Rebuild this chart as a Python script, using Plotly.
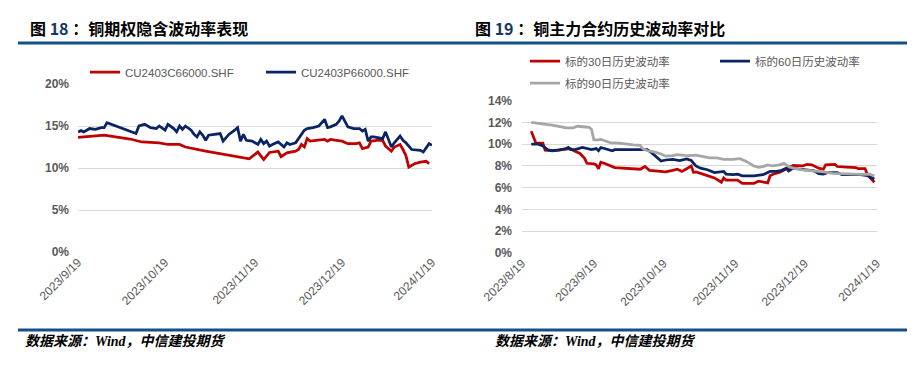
import plotly.graph_objects as go

W, H = 917, 365

# ---------------- Left chart: implied volatility (%) ----------------
call_dates = ["2023-09-19", "2023-09-28", "2023-10-07", "2023-10-11", "2023-10-17", "2023-10-20",
              "2023-10-24", "2023-10-26", "2023-11-02", "2023-11-10", "2023-11-17", "2023-11-20",
              "2023-11-22", "2023-11-24", "2023-11-27", "2023-11-28", "2023-11-30", "2023-12-03",
              "2023-12-04", "2023-12-05", "2023-12-06", "2023-12-07", "2023-12-08", "2023-12-10",
              "2023-12-13", "2023-12-14", "2023-12-15", "2023-12-17", "2023-12-19", "2023-12-21",
              "2023-12-24", "2023-12-25", "2023-12-26", "2023-12-28", "2023-12-29", "2023-12-31",
              "2024-01-02", "2024-01-03", "2024-01-05", "2024-01-06", "2024-01-08", "2024-01-09",
              "2024-01-10", "2024-01-11", "2024-01-13", "2024-01-15", "2024-01-17", "2024-01-18"]
call_iv = [13.65, 13.9, 13.45, 13.1, 13.0, 12.8,
           12.8, 12.5, 12.0, 11.5, 11.1, 11.9,
           11.0, 11.85, 12.0, 11.35, 11.8, 12.0,
           12.2, 12.8, 12.5, 13.5, 13.2, 13.3,
           13.4, 13.2, 13.4, 13.3, 13.2, 12.9,
           12.9, 13.0, 12.3, 12.5, 13.2, 13.3,
           13.3, 12.6, 12.0, 12.5, 12.8, 12.2,
           11.5, 10.1, 10.5, 10.7, 10.8, 10.5]

put_dates = ["2023-09-19", "2023-09-20", "2023-09-21", "2023-09-22", "2023-09-23", "2023-09-25",
             "2023-09-27", "2023-09-28", "2023-09-29", "2023-10-09", "2023-10-10", "2023-10-12",
             "2023-10-14", "2023-10-16", "2023-10-17", "2023-10-19", "2023-10-20", "2023-10-22",
             "2023-10-23", "2023-10-24", "2023-10-25", "2023-10-26", "2023-10-28", "2023-10-29",
             "2023-10-30", "2023-10-31", "2023-11-01", "2023-11-02", "2023-11-03", "2023-11-05",
             "2023-11-07", "2023-11-08", "2023-11-10", "2023-11-12", "2023-11-13", "2023-11-14",
             "2023-11-15", "2023-11-16", "2023-11-18", "2023-11-19", "2023-11-20", "2023-11-21",
             "2023-11-22", "2023-11-23", "2023-11-24", "2023-11-25", "2023-11-27", "2023-11-29",
             "2023-11-30", "2023-12-01", "2023-12-03", "2023-12-04", "2023-12-06", "2023-12-07",
             "2023-12-09", "2023-12-11", "2023-12-13", "2023-12-14", "2023-12-15", "2023-12-17",
             "2023-12-18", "2023-12-19", "2023-12-20", "2023-12-21", "2023-12-23", "2023-12-25",
             "2023-12-26", "2023-12-27", "2023-12-28", "2023-12-29", "2023-12-30", "2024-01-02",
             "2024-01-03", "2024-01-04", "2024-01-05", "2024-01-06", "2024-01-08", "2024-01-09",
             "2024-01-10", "2024-01-12", "2024-01-14", "2024-01-15", "2024-01-16", "2024-01-17",
             "2024-01-18", "2024-01-19"]
put_iv = [14.3, 14.45, 14.3, 14.5, 14.7, 14.6,
          14.8, 14.8, 15.4, 14.1, 15.0, 15.2,
          14.8, 14.7, 15.0, 14.5, 15.2, 14.7,
          14.3, 15.0, 14.6, 15.0, 14.5, 14.0,
          13.7, 14.3, 13.9, 13.3, 13.9, 14.0,
          14.1, 13.2, 14.0, 14.5, 14.8, 13.2,
          14.0, 13.3, 13.2, 13.0, 12.8, 13.4,
          12.9, 13.2, 12.6, 12.8, 13.1, 12.5,
          13.0, 12.8, 13.0, 13.5, 14.5, 14.7,
          14.8, 15.0, 15.8, 14.8, 14.9, 15.2,
          15.6, 16.2, 15.5, 14.9, 14.7, 14.7,
          14.4, 14.6, 13.2, 13.7, 13.7, 13.5,
          14.3, 13.4, 12.5, 13.0, 13.8, 13.3,
          13.0, 12.2, 12.1, 12.1, 11.9, 12.4,
          12.9, 12.7]

# ---------------- Right chart: historical volatility (%) ----------------
hv30_dates = ["2023-08-23", "2023-08-25", "2023-08-28", "2023-08-29", "2023-09-01", "2023-09-04",
              "2023-09-07", "2023-09-09", "2023-09-10", "2023-09-13", "2023-09-15", "2023-09-16",
              "2023-09-19", "2023-09-20", "2023-09-21", "2023-09-22", "2023-09-24", "2023-09-27",
              "2023-09-28", "2023-10-09", "2023-10-11", "2023-10-13", "2023-10-16", "2023-10-18",
              "2023-10-20", "2023-10-23", "2023-10-25", "2023-10-27", "2023-10-29", "2023-10-31",
              "2023-11-01", "2023-11-02", "2023-11-05", "2023-11-07", "2023-11-10", "2023-11-13",
              "2023-11-14", "2023-11-15", "2023-11-20", "2023-11-22", "2023-11-27", "2023-11-29",
              "2023-12-01", "2023-12-03", "2023-12-04", "2023-12-06", "2023-12-08", "2023-12-11",
              "2023-12-14", "2023-12-18", "2023-12-20", "2023-12-22", "2023-12-25", "2023-12-27",
              "2023-12-28", "2024-01-01", "2024-01-02", "2024-01-06", "2024-01-10", "2024-01-11",
              "2024-01-14", "2024-01-15", "2024-01-17", "2024-01-18"]
hv30 = [11.2, 10.1, 10.1, 9.45, 9.4, 9.45,
        9.5, 9.6, 9.45, 9.15, 8.7, 8.25,
        8.2, 8.1, 7.75, 8.35, 8.2, 7.95,
        7.85, 7.7, 7.95, 7.6, 7.55, 7.55,
        7.45, 7.6, 7.7, 7.5, 7.75, 8.0,
        7.4, 7.45, 7.25, 7.1, 6.9, 6.5,
        6.9, 6.7, 6.7, 6.4, 6.4, 6.6,
        6.55, 6.45, 7.1, 7.3, 7.4, 7.7,
        8.05, 8.0, 8.15, 8.1, 7.8, 7.7,
        8.1, 8.15, 7.95, 7.9, 7.85, 7.75,
        7.75, 7.2, 6.7, 6.5]

hv60_dates = ["2023-08-23", "2023-08-26", "2023-08-28", "2023-08-30", "2023-09-01", "2023-09-04",
              "2023-09-07", "2023-09-08", "2023-09-09", "2023-09-11", "2023-09-14", "2023-09-16",
              "2023-09-18", "2023-09-20", "2023-09-21", "2023-09-22", "2023-09-25", "2023-09-27",
              "2023-09-28", "2023-10-12", "2023-10-14", "2023-10-16", "2023-10-18", "2023-10-20",
              "2023-10-23", "2023-10-26", "2023-10-29", "2023-10-31", "2023-11-02", "2023-11-04",
              "2023-11-07", "2023-11-10", "2023-11-14", "2023-11-15", "2023-11-18", "2023-11-20",
              "2023-11-22", "2023-11-27", "2023-12-01", "2023-12-04", "2023-12-07", "2023-12-09",
              "2023-12-11", "2023-12-12", "2023-12-14", "2023-12-17", "2023-12-20", "2023-12-23",
              "2023-12-25", "2023-12-27", "2023-12-29", "2024-01-02", "2024-01-04", "2024-01-12",
              "2024-01-15", "2024-01-17", "2024-01-18"]
hv60 = [10.0, 10.0, 9.85, 9.5, 9.4, 9.45,
        9.6, 9.7, 9.5, 9.5, 9.7, 9.6,
        9.5, 9.6, 9.4, 9.7, 9.5, 9.4,
        9.5, 9.5, 9.2, 8.85, 8.45, 8.55,
        8.6, 8.5, 8.65, 8.5, 8.0, 7.8,
        7.65, 7.4, 7.5, 7.25, 7.2, 7.25,
        7.1, 7.1, 7.2, 7.5, 7.5, 7.6,
        7.8, 7.55, 7.8, 7.7, 7.65, 7.55,
        7.3, 7.25, 7.4, 7.4, 7.2, 7.2,
        7.1, 6.85, 6.8]

hv90_dates = ["2023-08-23", "2023-08-27", "2023-08-30", "2023-09-01", "2023-09-03", "2023-09-05",
              "2023-09-07", "2023-09-10", "2023-09-12", "2023-09-14", "2023-09-17", "2023-09-18",
              "2023-09-19", "2023-09-21", "2023-09-22", "2023-09-24", "2023-09-26", "2023-09-30",
              "2023-10-03", "2023-10-06", "2023-10-09", "2023-10-10", "2023-10-12", "2023-10-15",
              "2023-10-18", "2023-10-20", "2023-10-23", "2023-10-25", "2023-10-28", "2023-10-30",
              "2023-11-02", "2023-11-05", "2023-11-08", "2023-11-11", "2023-11-14", "2023-11-18",
              "2023-11-21", "2023-11-24", "2023-11-27", "2023-11-29", "2023-12-01", "2023-12-03",
              "2023-12-05", "2023-12-08", "2023-12-10", "2023-12-12", "2023-12-14", "2023-12-18",
              "2023-12-23", "2023-12-27", "2023-12-31", "2024-01-05", "2024-01-12", "2024-01-16",
              "2024-01-18"]
hv90 = [12.0, 11.85, 11.8, 11.75, 11.7, 11.6,
        11.5, 11.5, 11.65, 11.6, 11.55, 11.35,
        10.4, 10.4, 10.45, 10.3, 10.15, 10.1,
        10.0, 9.95, 9.9, 9.6, 9.4, 9.3,
        9.1, 8.9, 8.95, 9.05, 8.98, 8.95,
        9.0, 8.85, 8.75, 8.75, 8.6, 8.6,
        8.67, 8.4, 8.0, 7.87, 7.94, 8.1,
        8.0, 8.1, 8.24, 7.94, 7.8, 7.65,
        7.57, 7.45, 7.32, 7.26, 7.23, 7.26,
        7.08]

left_tickvals = ["2023-09-19", "2023-10-19", "2023-11-19", "2023-12-19", "2024-01-19"]
left_ticktext = ["2023/9/19", "2023/10/19", "2023/11/19", "2023/12/19", "2024/1/19"]
right_tickvals = ["2023-08-19", "2023-09-19", "2023-10-19", "2023-11-19", "2023-12-19", "2024-01-19"]
right_ticktext = ["2023/8/19", "2023/9/19", "2023/10/19", "2023/11/19", "2023/12/19", "2024/1/19"]

RED, NAVY, GRAY = "#C00000", "#0A2463", "#A6A6A6"
HEAD = "#135087"
TXT = "#595959"
GRID = "#D9D9D9"
NUMFONT = "Liberation Sans"
CJK = "Noto Sans CJK SC"


def px(x):
    return x / W


def py(y):
    return 1 - y / H


fig = go.Figure()
lw = 2.75
fig.add_trace(go.Scatter(x=call_dates, y=call_iv, name="CU2403C66000.SHF", mode="lines",
                         line=dict(color=RED, width=lw), xaxis="x", yaxis="y", legend="legend"))
fig.add_trace(go.Scatter(x=put_dates, y=put_iv, name="CU2403P66000.SHF", mode="lines",
                         line=dict(color=NAVY, width=lw), xaxis="x", yaxis="y", legend="legend"))
fig.add_trace(go.Scatter(x=hv30_dates, y=hv30, name="标的30日历史波动率", mode="lines",
                         line=dict(color=RED, width=lw), xaxis="x2", yaxis="y2", legend="legend2"))
fig.add_trace(go.Scatter(x=hv60_dates, y=hv60, name="标的60日历史波动率", mode="lines",
                         line=dict(color=NAVY, width=lw), xaxis="x2", yaxis="y2", legend="legend2"))
fig.add_trace(go.Scatter(x=hv90_dates, y=hv90, name="标的90日历史波动率", mode="lines",
                         line=dict(color=GRAY, width=lw), xaxis="x2", yaxis="y2", legend="legend3"))

xtick_font = dict(family=NUMFONT, size=12, color=TXT)
ytick_font = dict(family=NUMFONT, size=12, color=TXT, weight="bold")

common_x = dict(type="date", showgrid=False, showline=False, zeroline=False, ticks="",
                tickangle=-45, tickfont=xtick_font, fixedrange=True, automargin=False)
common_y = dict(showgrid=True, gridcolor=GRID, gridwidth=1, zeroline=False, showline=False,
                ticks="", ticksuffix="%", tickfont=ytick_font, fixedrange=True, automargin=False)

leg_common = dict(orientation="h", xanchor="left", yanchor="middle", bgcolor="rgba(0,0,0,0)",
                  font=dict(family=NUMFONT + ", " + CJK, size=11.5, color=TXT), itemclick=False,
                  tracegroupgap=0)

fig.update_layout(
    width=W, height=H, margin=dict(l=0, r=0, t=0, b=0, autoexpand=False),
    paper_bgcolor="white", plot_bgcolor="white",
    xaxis=dict(common_x, domain=[px(78), px(432)], range=["2023-09-19", "2024-01-19"],
               tickvals=left_tickvals, ticktext=left_ticktext, anchor="y"),
    yaxis=dict(common_y, domain=[1 - 252 / H, 1 - 84 / H], range=[0, 20], dtick=5,
               anchor="x", ticklabelstandoff=8),
    xaxis2=dict(common_x, domain=[px(522), px(876.7)], range=["2023-08-19", "2024-01-19"],
                tickvals=right_tickvals, ticktext=right_ticktext, anchor="y2"),
    yaxis2=dict(common_y, domain=[1 - 253 / H, 1 - 100.7 / H], range=[0, 14], dtick=2,
                anchor="x2", ticklabelstandoff=9),
    legend=dict(leg_common, x=px(85), y=py(72), entrywidth=131),
    legend2=dict(leg_common, x=px(525), y=py(61), entrywidth=145),
    legend3=dict(leg_common, x=px(525), y=py(83)),
    showlegend=True,
)

title_font = dict(family=CJK, size=16, color="#000000", weight="bold")
foot_font = dict(family=CJK, size=14, color="#000000")
fig.add_annotation(x=px(28), y=py(28), xref="paper", yref="paper", xanchor="left", yanchor="middle",
                   showarrow=False, font=title_font,
                   text='图 <span style="color:#17375E">18</span> ：铜期权隐含波动率表现')
fig.add_annotation(x=px(473), y=py(28), xref="paper", yref="paper", xanchor="left", yanchor="middle",
                   showarrow=False, font=title_font,
                   text='图 <span style="color:#17375E">19</span> ：铜主力合约历史波动率对比')
foot_text = ('<b><i>数据来源：<span style="font-family:Liberation Serif">Wind</span>，中信建投期货</i></b>')
fig.add_annotation(x=px(23), y=py(340), xref="paper", yref="paper", xanchor="left", yanchor="middle",
                   showarrow=False, font=foot_font, text=foot_text)
fig.add_annotation(x=px(493), y=py(340), xref="paper", yref="paper", xanchor="left", yanchor="middle",
                   showarrow=False, font=foot_font, text=foot_text)

for yy in (43, 330):
    fig.add_shape(type="line", xref="paper", yref="paper", x0=px(18), x1=px(907), y0=py(yy), y1=py(yy),
                  line=dict(color=HEAD, width=3))

fig.write_html("out.html", config={"displayModeBar": False, "staticPlot": True},
               post_script="document.body.style.margin='0';document.body.style.padding='0';")
